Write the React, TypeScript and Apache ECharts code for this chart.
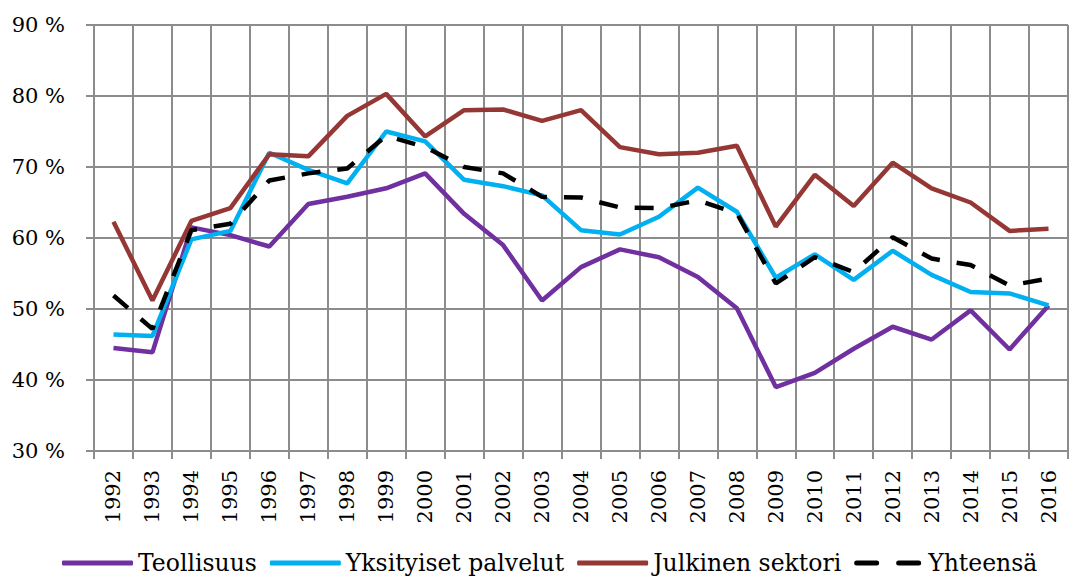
import React, { useEffect, useRef } from "react";
import * as echarts from "echarts";

const years = ["1992","1993","1994","1995","1996","1997","1998","1999","2000","2001","2002","2003","2004","2005","2006","2007","2008","2009","2010","2011","2012","2013","2014","2015","2016"];
const teollisuus = [44.5,43.9,61.5,60.4,58.8,64.8,65.8,67.0,69.1,63.4,59.0,51.2,55.9,58.4,57.3,54.5,50.1,39.0,41.0,44.4,47.5,45.7,49.8,44.3,50.5];
const yksityiset = [46.4,46.2,59.8,61.0,72.0,69.6,67.7,75.0,73.6,68.2,67.3,66.0,61.1,60.5,63.0,67.1,63.7,54.4,57.7,54.1,58.2,54.8,52.4,52.2,50.5];
const julkinen = [62.3,51.2,62.4,64.2,71.8,71.5,77.2,80.3,74.3,78.0,78.1,76.5,78.0,72.8,71.8,72.0,73.0,61.6,68.9,64.5,70.6,67.0,65.0,61.0,61.3];
const yhteensa = [51.9,47.2,61.1,62.0,68.1,69.1,69.8,74.4,72.8,70.0,69.1,65.8,65.7,64.3,64.2,65.3,63.5,53.6,57.3,55.2,60.1,57.1,56.2,53.3,54.3];

const FONT = "'DejaVu Serif', serif";
const GRID = "#8c8c8c";

export default function App() {
  const ref = useRef<HTMLDivElement>(null);
  useEffect(() => {
    if (!ref.current) return;
    const chart = echarts.init(ref.current, null, { renderer: "svg" });
    const mk = (name: string, data: number[], color: string, dashed = false) => ({
      name,
      type: "line",
      data,
      symbol: "none",
      showSymbol: false,
      lineStyle: { color, width: 4.5, type: dashed ? [19, 17] : "solid", cap: "butt" },
      itemStyle: { color },
    });
    const solidIcon = "roundRect";
    const dashIcon = "path://M2,0h20a2,2 0 0 1 0,5h-20a2,2 0 0 1 0,-5zM44,0h20a2,2 0 0 1 0,5h-20a2,2 0 0 1 0,-5z";
    chart.setOption({
      animation: false,
      backgroundColor: "#fff",
      textStyle: { fontFamily: FONT, color: "#000" },
      grid: { left: 94, right: 1, top: 25, bottom: 128, containLabel: false },
      legend: {
        top: 551,
        left: 62,
        padding: 0,
        itemWidth: 71,
        itemHeight: 5,
        itemGap: 13,
        textStyle: { fontFamily: FONT, fontSize: 23.5, color: "#000" },
        data: [
          { name: "Teollisuus", icon: solidIcon },
          { name: "Yksityiset palvelut", icon: solidIcon },
          { name: "Julkinen sektori", icon: solidIcon },
          { name: "Yhteensä", icon: dashIcon },
        ],
      },
      xAxis: {
        type: "category",
        data: years,
        boundaryGap: true,
        axisLine: { show: true, lineStyle: { color: GRID, width: 2 } },
        axisTick: { show: true, length: 8, lineStyle: { color: GRID, width: 2 } },
        splitLine: { show: true, lineStyle: { color: GRID, width: 2 } },
        axisLabel: { rotate: 90, fontFamily: FONT, fontSize: 21, color: "#000", margin: 19, interval: 0 },
      },
      yAxis: {
        type: "value",
        min: 30,
        max: 90,
        interval: 10,
        axisLine: { show: true, lineStyle: { color: GRID, width: 2 } },
        axisTick: { show: true, length: 8, lineStyle: { color: GRID, width: 2 } },
        splitLine: { show: true, lineStyle: { color: GRID, width: 2 } },
        axisLabel: { formatter: "{value} %", fontFamily: FONT, fontSize: 21, color: "#000", margin: 29 },
      },
      series: [
        mk("Teollisuus", teollisuus, "#7030A0"),
        mk("Yksityiset palvelut", yksityiset, "#00B0F0"),
        mk("Julkinen sektori", julkinen, "#953735"),
        mk("Yhteensä", yhteensa, "#000000", true),
      ],
    });
    return () => chart.dispose();
  }, []);
  return <div ref={ref} style={{ position: "fixed", left: 0, top: 0, width: 1069, height: 579 }} />;
}
